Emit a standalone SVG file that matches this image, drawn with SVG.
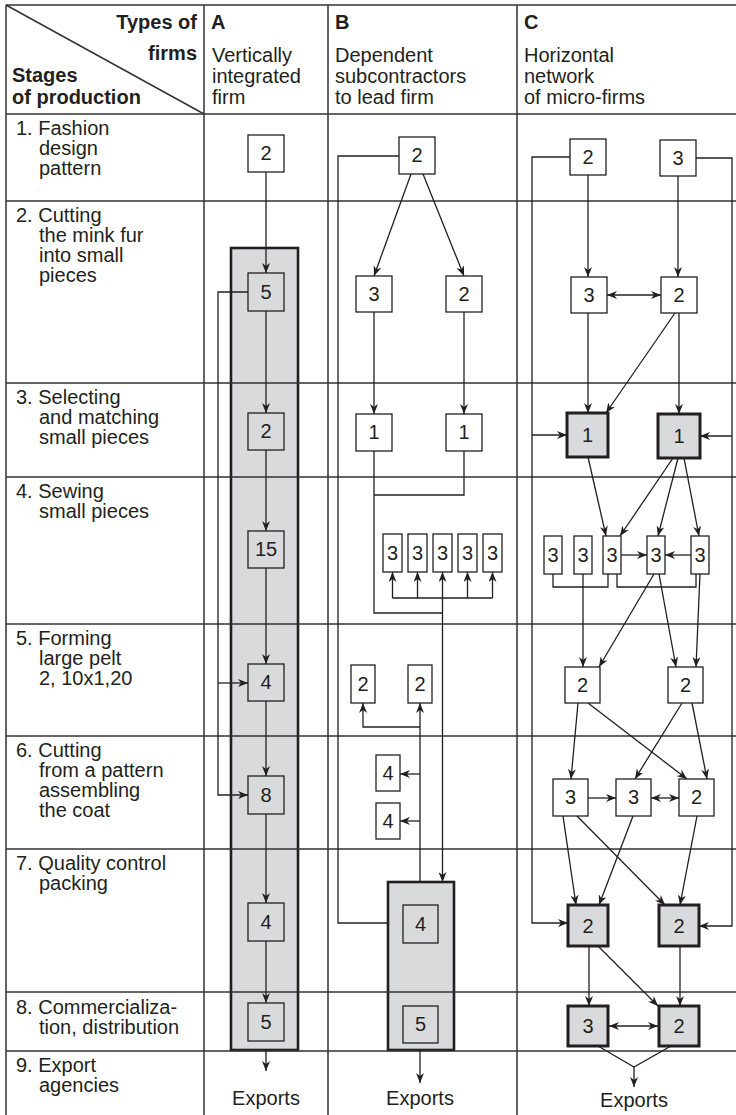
<svg xmlns="http://www.w3.org/2000/svg" width="736" height="1115" viewBox="0 0 736 1115">
<defs>
<marker id="ah" viewBox="0 0 10 8" markerWidth="10" markerHeight="8" refX="10" refY="4" orient="auto-start-reverse" markerUnits="userSpaceOnUse">
<path d="M0,0 L10,4 L0,8 L3,4 z" fill="#231f20"/>
</marker>
</defs>
<style>
text{font-family:"Liberation Sans",Arial,sans-serif;font-size:20px;fill:#231f20}
.b{font-weight:bold}
.r{text-anchor:end}
.m{text-anchor:middle}
.grid{stroke:#333;stroke-width:1.5;fill:none}
.box{fill:#fff;stroke:#231f20;stroke-width:1.3}
.sbox{fill:#d9dadc;stroke:#231f20;stroke-width:1.3}
.tbox{fill:#d9dadc;stroke:#231f20;stroke-width:3}
.cont{fill:#d9dadc;stroke:#231f20;stroke-width:2.6}
.c{stroke:#231f20;stroke-width:1.3;fill:none}
.a{marker-end:url(#ah)}
.d{marker-start:url(#ah);marker-end:url(#ah)}
</style>
<rect x="0" y="0" width="736" height="1115" fill="#fff"/>

<g id="containers">
<rect class="cont" x="231" y="248" width="67" height="802"/>
<rect class="cont" x="388" y="882" width="66" height="168"/>
</g>

<g id="grid">
<path class="grid" d="M6,5 H736 M6,114 H736 M6,201 H736 M6,383 H736 M6,477 H736 M6,624 H736 M6,736 H736 M6,849 H736 M6,992 H736 M6,1051 H736"/>
<path class="grid" d="M6,5 V1115 M204,5 V1115 M328,5 V1115 M517,5 V1115"/>
<path class="grid" d="M6,5 L204,114" stroke-width="1.2"/>
</g>

<g id="header">
<text class="b r" x="197" y="29">Types of</text>
<text class="b r" x="197" y="60">firms</text>
<text class="b" x="12" y="82">Stages</text>
<text class="b" x="12" y="104">of production</text>
<text class="b" x="211" y="29">A</text>
<text x="212" y="62">Vertically</text>
<text x="212" y="83">integrated</text>
<text x="212" y="104">firm</text>
<text class="b" x="335" y="29">B</text>
<text x="335" y="62">Dependent</text>
<text x="335" y="83">subcontractors</text>
<text x="335" y="104">to lead firm</text>
<text class="b" x="524" y="29">C</text>
<text x="524" y="62">Horizontal</text>
<text x="524" y="83">network</text>
<text x="524" y="104">of micro-firms</text>
</g>

<g id="stages">
<text x="16" y="135">1. Fashion</text>
<text x="39" y="155">design</text>
<text x="39" y="175">pattern</text>
<text x="16" y="222">2. Cutting</text>
<text x="39" y="242">the mink fur</text>
<text x="39" y="262">into small</text>
<text x="39" y="282">pieces</text>
<text x="16" y="404">3. Selecting</text>
<text x="39" y="424">and matching</text>
<text x="39" y="444">small pieces</text>
<text x="16" y="498">4. Sewing</text>
<text x="39" y="518">small pieces</text>
<text x="16" y="645">5. Forming</text>
<text x="39" y="665">large pelt</text>
<text x="39" y="685">2, 10x1,20</text>
<text x="16" y="757">6. Cutting</text>
<text x="39" y="777">from a pattern</text>
<text x="39" y="797">assembling</text>
<text x="39" y="817">the coat</text>
<text x="16" y="870">7. Quality control</text>
<text x="39" y="890">packing</text>
<text x="16" y="1014">8. Commercializa-</text>
<text x="39" y="1034">tion, distribution</text>
<text x="16" y="1072">9. Export</text>
<text x="39" y="1092">agencies</text>
</g>

<g id="connectors">
<!-- column A -->
<path class="c a" d="M266,172 V273"/>
<path class="c a" d="M266,311 V413"/>
<path class="c a" d="M266,450 V531"/>
<path class="c a" d="M266,568 V664"/>
<path class="c a" d="M266,701 V776"/>
<path class="c a" d="M266,814 V903"/>
<path class="c a" d="M266,941 V1003"/>
<path class="c a" d="M248,292 H218 V795 H248"/>
<path class="c a" d="M218,683 H248"/>
<path class="c a" d="M266,1050 V1071"/>
<!-- column B -->
<path class="c a" d="M411,174 L374,276"/>
<path class="c a" d="M423,174 L464,276"/>
<path class="c" d="M399,156 H338 V923 H388"/>
<path class="c a" d="M374,312 V414"/>
<path class="c a" d="M464,312 V414"/>
<path class="c" d="M374,451 V613 H442.5"/>
<path class="c" d="M464,451 V495 H374"/>
<path class="c a" d="M442.5,613 V572"/>
<path class="c a" d="M442.5,613 V882"/>
<path class="c" d="M392.5,598 H492.5"/>
<path class="c a" d="M392.5,598 V572"/>
<path class="c a" d="M417.5,598 V572"/>
<path class="c a" d="M467.5,598 V572"/>
<path class="c a" d="M492.5,598 V572"/>
<path class="c a" d="M420,882 V703"/>
<path class="c a" d="M420,727 H363 V703"/>
<path class="c a" d="M420,774 H400"/>
<path class="c a" d="M420,821 H400"/>
<path class="c a" d="M420,1050 V1083"/>
<!-- column C -->
<path class="c a" d="M570,157 H532 V923 H568"/>
<path class="c a" d="M532,435 H567"/>
<path class="c a" d="M696,158 H732 V926 H699"/>
<path class="c a" d="M732,436 H658 M732,436 H700"/>
<path class="c a" d="M588,175 V277"/>
<path class="c a" d="M678,176 V277"/>
<path class="c d" d="M607,295 H661"/>
<path class="c a" d="M588,313 V413"/>
<path class="c a" d="M675,313 L606,413"/>
<path class="c a" d="M679,313 V414"/>
<path class="c a" d="M588,457 L606,536"/>
<path class="c a" d="M673,458 L620,536"/>
<path class="c a" d="M678,458 L658,536"/>
<path class="c a" d="M684,458 L699,536"/>
<path class="c a" d="M621,555 H647"/>
<path class="c a" d="M691,555 H665"/>
<path class="c" d="M553,574 V587 H608 V574"/>
<path class="c" d="M617,574 V587 H696 V574"/>
<path class="c a" d="M583,574 V667"/>
<path class="c a" d="M654,574 L599,667"/>
<path class="c a" d="M659,574 L676,667"/>
<path class="c a" d="M700,574 L696,667"/>
<path class="c a" d="M578,703 L571,779"/>
<path class="c a" d="M588,703 L687,779"/>
<path class="c a" d="M682,703 L635,779"/>
<path class="c a" d="M692,703 L707,779"/>
<path class="c a" d="M588,798 H616"/>
<path class="c d" d="M651,798 H679"/>
<path class="c a" d="M563,816 L576,905"/>
<path class="c a" d="M633,816 L599,905"/>
<path class="c a" d="M577,816 L665,905"/>
<path class="c a" d="M697,816 L680,905"/>
<path class="c a" d="M589,946 V1006"/>
<path class="c a" d="M598,946 L658,1006"/>
<path class="c a" d="M680,946 V1006"/>
<path class="c d" d="M609,1026 H658"/>
<path class="c" d="M598,1046 L634,1067 L671,1046"/>
<path class="c a" d="M634,1067 V1087"/>
</g>

<g id="exports">
<text class="m" x="266" y="1105">Exports</text>
<text class="m" x="420" y="1105">Exports</text>
<text class="m" x="634" y="1107">Exports</text>
</g>

<g id="nodeA">
<g id="a1"><rect class="box" x="248" y="135" width="36" height="37"/><text class="m" x="266" y="160">2</text></g>
<g id="a2"><rect class="sbox" x="248" y="273" width="36" height="38"/><text class="m" x="266" y="299">5</text></g>
<g id="a3"><rect class="sbox" x="248" y="413" width="36" height="37"/><text class="m" x="266" y="438">2</text></g>
<g id="a4"><rect class="sbox" x="248" y="531" width="36" height="37"/><text class="m" x="266" y="556">15</text></g>
<g id="a5"><rect class="sbox" x="248" y="664" width="36" height="37"/><text class="m" x="266" y="689">4</text></g>
<g id="a6"><rect class="sbox" x="248" y="776" width="36" height="38"/><text class="m" x="266" y="802">8</text></g>
<g id="a7"><rect class="sbox" x="248" y="903" width="36" height="38"/><text class="m" x="266" y="929">4</text></g>
<g id="a8"><rect class="sbox" x="248" y="1003" width="36" height="38"/><text class="m" x="266" y="1029">5</text></g>
</g>

<g id="nodeB">
<g id="b1"><rect class="box" x="399" y="137" width="36" height="37"/><text class="m" x="417" y="162">2</text></g>
<g id="b2"><rect class="box" x="356" y="276" width="36" height="36"/><text class="m" x="374" y="301">3</text></g>
<g id="b3"><rect class="box" x="446" y="276" width="36" height="36"/><text class="m" x="464" y="301">2</text></g>
<g id="b4"><rect class="box" x="356" y="414" width="36" height="37"/><text class="m" x="374" y="439">1</text></g>
<g id="b5"><rect class="box" x="446" y="414" width="36" height="37"/><text class="m" x="464" y="439">1</text></g>
<g id="b6"><rect class="box" x="383" y="534" width="19" height="38"/><text class="m" x="392.5" y="560">3</text></g>
<g id="b7"><rect class="box" x="408" y="534" width="19" height="38"/><text class="m" x="417.5" y="560">3</text></g>
<g id="b8"><rect class="box" x="433" y="534" width="19" height="38"/><text class="m" x="442.5" y="560">3</text></g>
<g id="b9"><rect class="box" x="458" y="534" width="19" height="38"/><text class="m" x="467.5" y="560">3</text></g>
<g id="b10"><rect class="box" x="483" y="534" width="19" height="38"/><text class="m" x="492.5" y="560">3</text></g>
<g id="b11"><rect class="box" x="351" y="665" width="24" height="38"/><text class="m" x="363" y="691">2</text></g>
<g id="b12"><rect class="box" x="408" y="665" width="24" height="38"/><text class="m" x="420" y="691">2</text></g>
<g id="b13"><rect class="box" x="376" y="755" width="24" height="36"/><text class="m" x="388" y="780">4</text></g>
<g id="b14"><rect class="box" x="376" y="803" width="24" height="36"/><text class="m" x="388" y="828">4</text></g>
<g id="b15"><rect class="sbox" x="403" y="905" width="35" height="38"/><text class="m" x="420.5" y="931">4</text></g>
<g id="b16"><rect class="sbox" x="403" y="1006" width="35" height="37"/><text class="m" x="420.5" y="1031">5</text></g>
</g>

<g id="nodeC">
<g id="c1"><rect class="box" x="570" y="139" width="36" height="36"/><text class="m" x="588" y="164">2</text></g>
<g id="c2"><rect class="box" x="660" y="140" width="36" height="36"/><text class="m" x="678" y="165">3</text></g>
<g id="c3"><rect class="box" x="571" y="277" width="36" height="36"/><text class="m" x="589" y="302">3</text></g>
<g id="c4"><rect class="box" x="661" y="277" width="36" height="36"/><text class="m" x="679" y="302">2</text></g>
<g id="c5"><rect class="tbox" x="567" y="413" width="41" height="44"/><text class="m" x="587.5" y="442">1</text></g>
<g id="c6"><rect class="tbox" x="658" y="414" width="42" height="44"/><text class="m" x="679" y="443">1</text></g>
<g id="c7"><rect class="box" x="544" y="536" width="18" height="38"/><text class="m" x="553" y="562">3</text></g>
<g id="c8"><rect class="box" x="574" y="536" width="18" height="38"/><text class="m" x="583" y="562">3</text></g>
<g id="c9"><rect class="box" x="603" y="536" width="18" height="38"/><text class="m" x="612" y="562">3</text></g>
<g id="c10"><rect class="box" x="647" y="536" width="18" height="38"/><text class="m" x="656" y="562">3</text></g>
<g id="c11"><rect class="box" x="691" y="536" width="18" height="38"/><text class="m" x="700" y="562">3</text></g>
<g id="c12"><rect class="box" x="565" y="667" width="35" height="36"/><text class="m" x="582.5" y="692">2</text></g>
<g id="c13"><rect class="box" x="668" y="667" width="35" height="36"/><text class="m" x="685.5" y="692">2</text></g>
<g id="c14"><rect class="box" x="553" y="779" width="35" height="37"/><text class="m" x="570.5" y="804">3</text></g>
<g id="c15"><rect class="box" x="616" y="779" width="35" height="37"/><text class="m" x="633.5" y="804">3</text></g>
<g id="c16"><rect class="box" x="679" y="779" width="35" height="37"/><text class="m" x="696.5" y="804">2</text></g>
<g id="c17"><rect class="tbox" x="568" y="905" width="40" height="41"/><text class="m" x="588" y="933">2</text></g>
<g id="c18"><rect class="tbox" x="659" y="905" width="40" height="41"/><text class="m" x="679" y="933">2</text></g>
<g id="c19"><rect class="tbox" x="568" y="1006" width="40" height="40"/><text class="m" x="588" y="1033">3</text></g>
<g id="c20"><rect class="tbox" x="659" y="1006" width="40" height="40"/><text class="m" x="679" y="1033">2</text></g>
</g>
</svg>
